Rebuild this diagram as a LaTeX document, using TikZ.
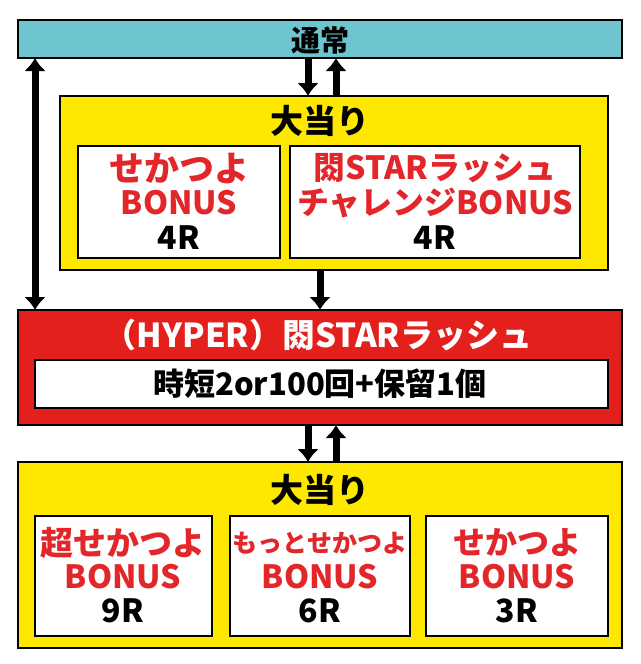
\documentclass[tikz,border=0pt]{standalone}
\usepackage{fontspec}
\setmainfont{Noto Sans CJK JP}[BoldFont=* Black]
\usetikzlibrary{arrows.meta}
\definecolor{teal1}{HTML}{6EC4CF}
\definecolor{yel}{HTML}{FFE800}
\definecolor{redb}{HTML}{E3201B}
\definecolor{redt}{HTML}{E3262A}
\begin{document}
\begin{tikzpicture}[x=1pt,y=-1pt,
 box/.style={draw=black,line width=1.4pt},
 arr/.style={-{Latex[length=13pt,width=22pt]},line width=7pt},
 big/.style={font=\bfseries\fontsize{33}{33}\selectfont},
 rt/.style={text=redt,font=\bfseries\fontsize{32}{32}\selectfont,inner sep=0},
 bt/.style={font=\bfseries\fontsize{32}{32}\selectfont,inner sep=0}]
\useasboundingbox (0,0) rectangle (640,664);
\fill[white] (0,0) rectangle (640,664);
% top bar
\draw[box,fill=teal1] (18,20) rectangle (622,58);
\node[font=\bfseries\fontsize{29}{29}\selectfont] (tsu) at (320,40) {通常};
% yellow 1
\draw[box,fill=yel] (60,96) rectangle (608,270);
\node[big] (oa1) at (320,121) {大当り};
\draw[box,fill=white] (78,146) rectangle (280,258);
\draw[box,fill=white] (290,146) rectangle (580,258);
\node[rt,font=\bfseries\fontsize{35}{35}\selectfont] (a1) at (179,168) {せかつよ};
\node[rt] (a2) at (179,203) {BONUS};
\node[bt] (a3) at (179,238) {4R};
\node[rt] (b1) at (435,168) {閦STARラッシュ};
\node[rt] (b2) at (435,203) {チャレンジBONUS};
\node[bt] (b3) at (435,238) {4R};
% red
\draw[box,fill=redb] (18,310) rectangle (622,425);
\node[big,text=white] (red) at (318,335) {（HYPER）閦STARラッシュ};
\draw[box,fill=white] (35,360) rectangle (608,408);
\node[font=\bfseries\fontsize{31}{31}\selectfont] (jt) at (320,384) {時短2or100回+保留1個};
% yellow 2
\draw[box,fill=yel] (18,462) rectangle (622,648);
\node[big] (oa2) at (320,490) {大当り};
\draw[box,fill=white] (35,516) rectangle (212,636);
\draw[box,fill=white] (230,516) rectangle (410,636);
\draw[box,fill=white] (426,516) rectangle (608,636);
\node[rt,font=\bfseries\fontsize{33}{33}\selectfont] (c1) at (123,543) {超せかつよ};
\node[rt] (c2) at (123,577) {BONUS};
\node[bt] (c3) at (123,611) {9R};
\node[rt,font=\bfseries\fontsize{25}{25}\selectfont] (d1) at (320,543) {もっとせかつよ};
\node[rt] (d2) at (320,577) {BONUS};
\node[bt] (d3) at (320,611) {6R};
\node[rt] (e1) at (517,543) {せかつよ};
\node[rt] (e2) at (517,577) {BONUS};
\node[bt] (e3) at (517,611) {3R};
% arrows
\coordinate (t1) at (308,58); \coordinate (t2) at (308,96);
\coordinate (t3) at (336,96); \coordinate (t4) at (336,58);
\draw[arr] (t1) -- (t2); \draw[arr] (t3) -- (t4);
\coordinate (m1) at (320,270); \coordinate (m2) at (320,310);
\draw[arr] (m1) -- (m2);
\coordinate (r1) at (308,425); \coordinate (r2) at (308,462);
\coordinate (r3) at (336,462); \coordinate (r4) at (336,425);
\draw[arr] (r1) -- (r2); \draw[arr] (r3) -- (r4);
\coordinate (l1) at (35,58); \coordinate (l2) at (35,310);
\draw[line width=7pt,{Latex[length=13pt,width=22pt]}-{Latex[length=13pt,width=22pt]}] (l1) -- (l2);
\end{tikzpicture}
\end{document}
